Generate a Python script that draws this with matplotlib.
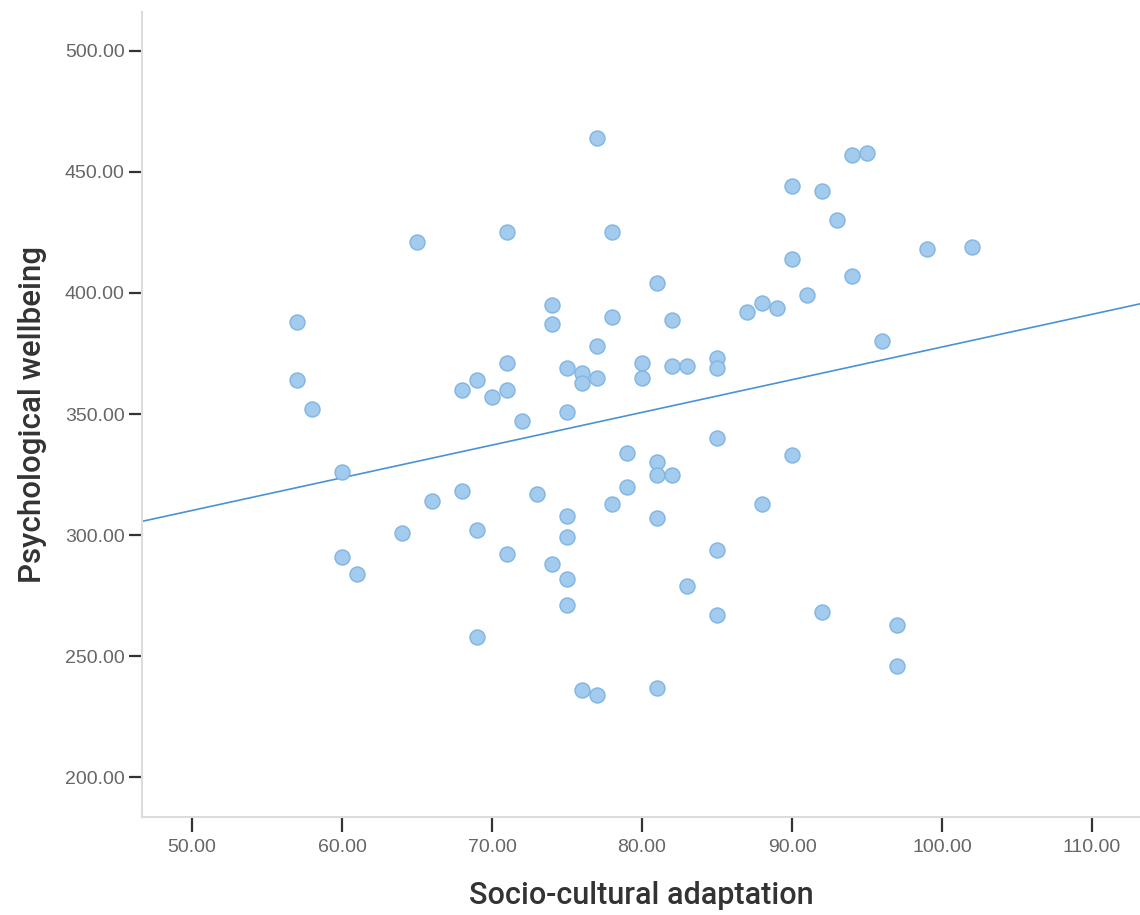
import numpy as np
import matplotlib.pyplot as plt

# valeurs
adaptation = [77, 94, 95, 90, 92, 93, 65, 71, 78, 99, 102, 90, 94, 81, 91, 88, 89, 87,
              74, 57, 74, 78, 82, 96, 77, 71, 80, 82, 83, 85, 85, 75, 76, 76, 77, 80,
              57, 69, 68, 71, 70, 58, 75, 72, 85, 79, 90, 81, 60, 81, 82, 79, 68, 73,
              66, 78, 88, 75, 81, 69, 64, 75, 85, 71, 60, 74, 61, 75, 83, 75, 85, 92,
              97, 69, 97, 81, 76, 77]
wellbeing = [464, 457, 458, 444, 442, 430, 421, 425, 425, 418, 419, 414, 407, 404, 399, 396, 394, 392,
             395, 388, 387, 390, 389, 380, 378, 371, 371, 370, 370, 373, 369, 369, 367, 363, 365, 365,
             364, 364, 360, 360, 357, 352, 351, 347, 340, 334, 333, 330, 326, 325, 325, 320, 318, 317,
             314, 313, 313, 308, 307, 302, 301, 299, 294, 292, 291, 288, 284, 282, 279, 271, 267, 268,
             263, 258, 246, 237, 236, 234]

xticks = [50, 60, 70, 80, 90, 100, 110]
yticks = [200, 250, 300, 350, 400, 450, 500]

x = np.array(adaptation, dtype=float)
y = np.array(wellbeing, dtype=float)

plt.rcParams['font.family'] = ['Roboto', 'DejaVu Sans']

fig = plt.figure(figsize=(11.4, 9.15), dpi=100)
ax = fig.add_axes([0.1246, 0.1071, 0.8754, 0.8798])

ax.scatter(x, y, s=115, color='#a3cbee', edgecolors='#84b7e4', linewidths=1.1, zorder=3)

# droite des moindres carrés
b, a = np.polyfit(x, y, 1)
xl = np.array([46.667, 113.2])
ax.plot(xl, a + b*xl, color='#4a92d6', lw=1.2, zorder=2)

ax.set_xlim(46.667, 113.2)
ax.set_ylim(183.5, 516.1)
ax.set_xticks(xticks)
ax.set_yticks(yticks)
ax.set_xticklabels([f'{v:.2f}' for v in xticks], family='Liberation Sans')
ax.set_yticklabels([f'{v:.2f}' for v in yticks], family='Liberation Sans')

for s in ['top', 'right']:
    ax.spines[s].set_visible(False)
for s in ['left', 'bottom']:
    ax.spines[s].set_color('#dcdcdc')
    ax.spines[s].set_linewidth(1.5)

ax.tick_params(axis='x', length=11, width=1.6, color='#333333', pad=5,
               labelsize=14, labelcolor='#666666')
ax.tick_params(axis='y', length=9.5, width=1.6, color='#333333', pad=3,
               labelsize=14, labelcolor='#666666')

ax.set_xlabel('Socio-cultural adaptation', fontsize=22, fontweight='medium',
              color='#333333', labelpad=18)
ax.set_ylabel('Psychological wellbeing', fontsize=22.5, fontweight='medium',
              color='#333333', labelpad=13)

plt.savefig('out.png', dpi=100)
